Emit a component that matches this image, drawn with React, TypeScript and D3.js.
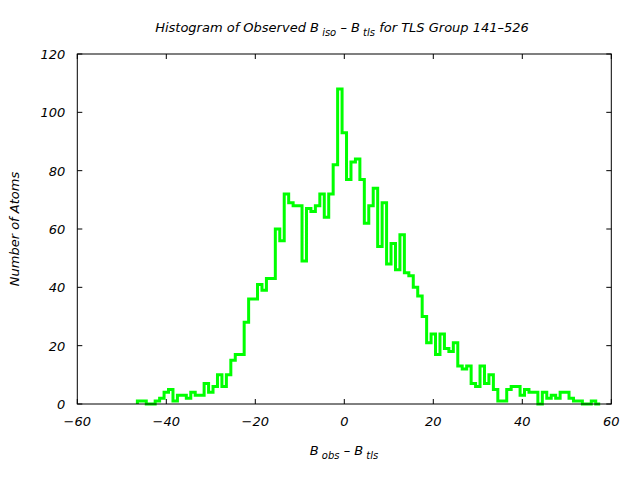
import React from "react";
import * as d3 from "d3";

const firstBin = -46;
const counts = [
  1, 1, 0, 0, 1, 2, 4, 5, 1, 3, 3, 2, 4, 3, 3, 7, 4, 6, 10, 6,
  10, 15, 17, 17, 28, 36, 36, 41, 39, 43, 43, 60, 56, 72, 69, 68, 68, 49, 67, 66,
  68, 72, 64, 72, 82, 108, 93, 77, 83, 84, 77, 62, 68, 74, 54, 69, 48, 55, 46, 58,
  45, 44, 40, 37, 30, 21, 24, 17, 24, 19, 18, 21, 13, 12, 13, 7, 6, 13, 7, 10,
  5, 1, 1, 5, 6, 6, 3, 5, 4, 4, 0, 4, 2, 3, 2, 4, 4, 2, 1, 1,
  0, 0, 1, 0,
];
const xTicks = [-60, -40, -20, 0, 20, 40, 60];
const yTicks = [0, 20, 40, 60, 80, 100, 120];

const W = 640, H = 480;
const L = 77.3, R = 611.3, T = 54, B = 404;
const FONT = "'DejaVu Sans', sans-serif";
const FS = 13;

export default function App() {
  const x = d3.scaleLinear().domain([-60, 60]).range([L, R]);
  const y = d3.scaleLinear().domain([0, 120]).range([B, T]);

  const pts: [number, number][] = [];
  pts.push([firstBin - 0.5, 0]);
  counts.forEach((c, i) => {
    const b = firstBin + i;
    pts.push([b - 0.5, c]);
    pts.push([b + 0.5, c]);
  });
  pts.push([firstBin + counts.length - 0.5, 0]);
  const line = d3
    .line<[number, number]>()
    .x((d) => x(d[0]))
    .y((d) => y(d[1]));

  const tickLen = 5;
  return (
    <svg width={W} height={H} style={{ position: "absolute", left: 0, top: 0, background: "#fff" }}>
      <rect x={0} y={0} width={W} height={H} fill="#fff" />
      <path d={line(pts) || ""} fill="none" stroke="#00ff00" strokeWidth={3} strokeLinejoin="miter" />
      <rect x={L} y={T} width={R - L} height={B - T} fill="none" stroke="#000" strokeWidth={1} />
      {xTicks.map((t) => (
        <g key={"x" + t}>
          <line x1={x(t)} x2={x(t)} y1={B} y2={B - tickLen} stroke="#000" />
          <line x1={x(t)} x2={x(t)} y1={T} y2={T + tickLen} stroke="#000" />
          <text x={x(t)} y={B + 22} textAnchor="middle" fontFamily={FONT} fontStyle="italic" fontSize={FS}>
            {t < 0 ? "\u2212" + Math.abs(t) : String(t)}
          </text>
        </g>
      ))}
      {yTicks.map((t) => (
        <g key={"y" + t}>
          <line x1={L} x2={L + tickLen} y1={y(t)} y2={y(t)} stroke="#000" />
          <line x1={R} x2={R - tickLen} y1={y(t)} y2={y(t)} stroke="#000" />
          <text x={L - 12} y={y(t) + 5} textAnchor="end" fontFamily={FONT} fontStyle="italic" fontSize={FS}>
            {t}
          </text>
        </g>
      ))}
      <text x={342} y={32} textAnchor="middle" fontFamily={FONT} fontStyle="italic" fontSize={FS}>
        Histogram of Observed B
        <tspan fontSize={10} dy={4}> iso</tspan>
        <tspan dy={-4}>{"  \u2013 B"}</tspan>
        <tspan fontSize={10} dy={4}> tls</tspan>
        <tspan dy={-4}>{"  for TLS Group 141\u2013526"}</tspan>
      </text>
      <text x={344} y={455} textAnchor="middle" fontFamily={FONT} fontStyle="italic" fontSize={FS}>
        B
        <tspan fontSize={10} dy={4}> obs</tspan>
        <tspan dy={-4}>{"  \u2013 B"}</tspan>
        <tspan fontSize={10} dy={4}> tls</tspan>
      </text>
      <text
        transform={`translate(19, ${(T + B) / 2}) rotate(-90)`}
        textAnchor="middle"
        fontFamily={FONT}
        fontStyle="italic"
        fontSize={FS}
      >
        Number of Atoms
      </text>
    </svg>
  );
}
